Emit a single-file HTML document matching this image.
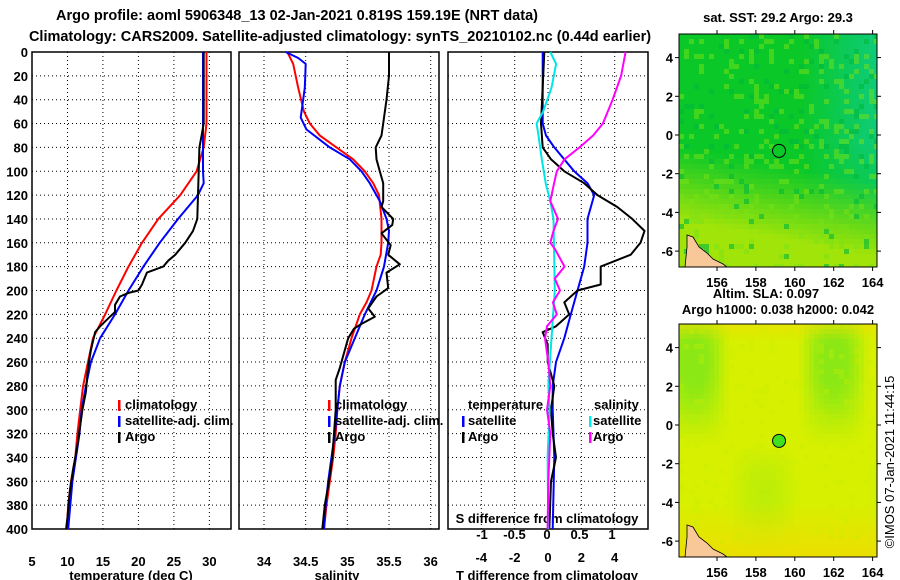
<!DOCTYPE html>
<html><head><meta charset="utf-8"><style>
html,body{margin:0;padding:0;background:#fff;}
svg{display:block;font-family:"Liberation Sans",sans-serif;font-weight:bold;}
</style></head><body>
<svg id="c" width="900" height="580" xmlns="http://www.w3.org/2000/svg">
<text x="297" y="20" font-size="14.5" text-anchor="middle">Argo profile: aoml 5906348_13 02-Jan-2021 0.819S 159.19E (NRT data)</text>
<text x="340" y="41" font-size="14.5" text-anchor="middle">Climatology: CARS2009. Satellite-adjusted climatology: synTS_20210102.nc (0.44d earlier)</text>
<g id="g"></g>
</svg>
<script>
// ---------- data ----------
const yTicks=[0,20,40,60,80,100,120,140,160,180,200,220,240,260,280,300,320,340,360,380,400];
const tTicks=[5,10,15,20,25,30];
const sTicks=[34,34.5,35,35.5,36];
const tdTicks=[-4,-2,0,2,4];
const sdTicks=[-1,-0.5,0,0.5,1];
const lonTicks=[156,158,160,162,164];
const latTicks=[4,2,0,-2,-4,-6];

const tClimD=[0,60,80,100,120,140,160,180,200,220,240,260,280,300,320,340,360,380,400];
const tClimV=[29.6,29.6,29.2,28.2,25.9,22.8,20.5,18.6,16.9,15.3,13.6,12.9,12.2,11.8,11.4,11.1,10.5,10.1,9.9];
const tSatD=[0,100,110,120,140,160,180,200,220,240,260,280,300,320,340,360,380,400];
const tSatV=[29.1,29.1,29.2,28.4,25.6,23.0,20.7,18.6,16.7,14.6,13.3,12.6,12.0,11.7,11.2,10.7,10.4,10.1];
const tArgoD=[0,60,70,80,100,120,140,150,160,170,175,180,185,195,200,202,205,212,218,222,230,235,250,265,285,300,330,350,370,390,400];
const tArgoV=[29.2,29.2,28.9,28.6,28.5,28.4,28.3,27.7,26.6,25.2,24.2,23.5,21.2,20.5,20.0,18.6,17.4,16.7,16.7,16.0,14.6,13.9,13.3,12.9,12.6,12.1,11.4,10.8,10.3,10.0,9.8];

const sClimD=[0,10,30,50,60,70,80,90,100,110,120,140,160,170,180,200,210,220,240,260,280,300,320,340,360,380,400];
const sClimV=[34.28,34.35,34.41,34.48,34.55,34.67,34.87,35.07,35.21,35.31,35.38,35.41,35.41,35.40,35.35,35.29,35.23,35.15,35.05,34.97,34.91,34.88,34.86,34.83,34.79,34.75,34.72];
const sSatD=[0,5,10,30,55,65,80,90,100,110,125,140,150,160,180,200,220,240,260,280,300,320,340,360,380,400];
const sSatV=[34.26,34.41,34.50,34.49,34.44,34.51,34.79,35.03,35.17,35.27,35.39,35.47,35.50,35.49,35.44,35.35,35.21,35.09,34.97,34.91,34.88,34.85,34.81,34.77,34.74,34.72];
const sArgoD=[0,20,40,60,70,80,90,100,110,125,130,140,145,152,162,170,178,185,198,205,215,222,228,232,240,250,265,275,300,320,340,360,380,400];
const sArgoV=[35.50,35.50,35.47,35.43,35.41,35.34,35.35,35.39,35.43,35.43,35.41,35.55,35.54,35.41,35.52,35.49,35.63,35.47,35.49,35.35,35.25,35.33,35.17,35.08,35.01,34.97,34.91,34.86,34.86,34.84,34.82,34.78,34.73,34.70];

const dTSatD=[0,60,70,80,100,110,120,140,160,180,200,220,240,260,280,300,340,400];
const dTSatV=[-0.32,-0.32,-0.12,0.38,1.57,2.37,2.77,2.37,2.37,2.17,1.77,1.37,0.98,0.48,0.28,0.28,0.38,0.28];
const dTArgoD=[0,60,80,90,100,110,120,130,140,150,160,170,180,195,200,210,220,230,235,245,260,280,300,320,340,360,400];
const dTArgoV=[-0.22,-0.42,-0.32,0.18,0.98,2.17,2.97,4.16,5.05,5.79,5.55,4.96,3.16,3.16,1.77,0.98,1.27,0.48,-0.32,-0.02,-0.02,0.38,0.18,0.28,0.48,0.18,0.08];
const dSSatD=[0,10,30,50,60,70,90,110,125,140,200,240,280,300,340,400];
const dSSatV=[0.05,0.14,0.07,-0.06,-0.16,-0.13,-0.08,-0.02,0.05,0.10,0.12,0.07,0.02,0.04,0.01,0.02];
const dSArgoD=[0,20,40,60,70,80,90,100,110,125,140,150,160,165,180,190,200,210,220,230,240,260,280,300,320,360,400];
const dSArgoV=[1.21,1.14,1.01,0.86,0.71,0.50,0.27,0.15,0.11,0.05,0.17,0.10,0.05,0.12,0.27,0.12,0.20,0.09,0.15,0.0,-0.03,0.02,0.05,0.0,0.05,0.02,0.01];

// ---------- helpers ----------
const NS='http://www.w3.org/2000/svg';
const G=document.getElementById('g');
const FS=13;
function mk(tag,at,parent){const e=document.createElementNS(NS,tag);for(const k in at)e.setAttribute(k,at[k]);(parent||G).appendChild(e);return e;}
function txt(x,y,s,size,anchor,name){const e=mk('text',{x:x,y:y,'font-size':size,'text-anchor':anchor});e.textContent=s;

return e;}
const Y0=52,Y1=529;
const yS=d=>Y0+(Y1-Y0)*d/400;

function panel(x0,x1,xmin,xmax,ticks,name,labelY){
  const xs=v=>x0+(x1-x0)*(v-xmin)/(xmax-xmin);
  const g=mk('g',{});
  
  
  yTicks.forEach(d=>{if(d>0&&d<400){const l=mk('line',{x1:x0,x2:x1,y1:yS(d),y2:yS(d),stroke:'#000','stroke-width':1,'stroke-dasharray':'1,3'},g);
    
    }});
  ticks.forEach(v=>{const X=xs(v);if(X>x0+1&&X<x1-1){const l=mk('line',{x1:X,x2:X,y1:Y0,y2:Y1,stroke:'#000','stroke-width':1,'stroke-dasharray':'1,3'},g);
    
    }
    if(labelY)txt(X,labelY,String(v),FS,'middle','x-tick-label');});
  const r=mk('rect',{x:x0,y:Y0,width:x1-x0,height:Y1-Y0,fill:'none',stroke:'#000','stroke-width':1.5},g);
  
  
  return xs;
}
function line(xs,D,V,color,w,name){
  const p=D.map((d,i)=>xs(V[i]).toFixed(1)+','+yS(d).toFixed(1)).join(' ');
  const e=mk('polyline',{points:p,fill:'none',stroke:color,'stroke-width':w,'stroke-linejoin':'round'});
  
  
}
function legBar(x,y,color){const e=mk('rect',{x:x,y:y-10,width:2.5,height:11,fill:color});
  
  }

// ---------- temperature panel ----------
const xT=panel(32,231,5,33.05,tTicks,'temperature-panel',566);
yTicks.forEach(d=>txt(28,yS(d)+5,String(d),FS,'end','y-tick-label'));
line(xT,tClimD,tClimV,'#ff0000',2,'temp-climatology-line');
line(xT,tSatD,tSatV,'#0000ff',2,'temp-satellite-line');
line(xT,tArgoD,tArgoV,'#000',2,'temp-argo-line');
txt(131,580,'temperature (deg C)',FS,'middle','temp-x-axis-title');
legBar(118,410,'#f00');txt(125,409,'climatology',FS,'start','legend-climatology');
legBar(118,426,'#00f');txt(125,425,'satellite-adj. clim.',FS,'start','legend-satellite');
legBar(118,442,'#000');txt(125,441,'Argo',FS,'start','legend-argo');

// ---------- salinity panel ----------
const xS=panel(239,439,33.7,36.1,sTicks,'salinity-panel',566);
line(xS,sClimD,sClimV,'#ff0000',2,'sal-climatology-line');
line(xS,sSatD,sSatV,'#0000ff',2,'sal-satellite-line');
line(xS,sArgoD,sArgoV,'#000',2,'sal-argo-line');
txt(337,580,'salinity',FS,'middle','sal-x-axis-title');
legBar(328,410,'#f00');txt(335,409,'climatology',FS,'start','sal-legend-climatology');
legBar(328,426,'#00f');txt(335,425,'satellite-adj. clim.',FS,'start','sal-legend-satellite');
legBar(328,442,'#000');txt(335,441,'Argo',FS,'start','sal-legend-argo');

// ---------- difference panel ----------
const xD=panel(448,648,-6,6,tdTicks,'difference-panel',562);
const xSD=v=>547+65*v;
sdTicks.forEach(v=>txt(xSD(v),539,String(v),FS,'middle','s-diff-tick-label'));
txt(547,523,'S difference from climatology',FS,'middle','s-diff-axis-title');
txt(547,580,'T difference from climatology',FS,'middle','t-diff-axis-title');
line(xD,dTSatD,dTSatV,'#0000ff',2,'tdiff-satellite-line');
line(xD,dTArgoD,dTArgoV,'#000',2,'tdiff-argo-line');
line(xSD,dSSatD,dSSatV,'#00e5e5',2,'sdiff-satellite-line');
line(xSD,dSArgoD,dSArgoV,'#ff00ff',2,'sdiff-argo-line');
txt(468,409,'temperature',FS,'start','legend-temperature-heading');
legBar(462,426,'#00f');txt(468,425,'satellite',FS,'start','legend-t-satellite');
legBar(462,442,'#000');txt(468,441,'Argo',FS,'start','legend-t-argo');
txt(594,409,'salinity',FS,'start','legend-salinity-heading');
legBar(589,426,'#0ee');txt(593,425,'satellite',FS,'start','legend-s-satellite');
legBar(589,442,'#f0f');txt(593,441,'Argo',FS,'start','legend-s-argo');

// ---------- maps ----------
function hash(i,j){let h=(i*374761393+j*668265263)^0x5bd1e995;h=(h^(h>>>13))*1274126177;return ((h^(h>>>16))>>>0)/4294967296;}
function map(top,name,colorFn,circFill){
  const x0=679,x1=877,y0=top,y1=top+233;
  const lonS=v=>717+(v-156)*19.45, latS=v=>(top+101)-v*19.35;
  const g=mk('g',{});
  
  
  const cs=5;
  for(let j=0;j*cs<y1-y0;j++)for(let i=0;i*cs<x1-x0;i++){
    mk('rect',{x:x0+i*cs,y:y0+j*cs,width:Math.min(cs,x1-x0-i*cs),height:Math.min(cs,y1-y0-j*cs),fill:colorFn(i/40,j/47,hash(i,j))},g);
  }
  const coast=mk('polygon',{points:`${x0+8},${y1-32} ${x0+14},${y1-30} ${x0+20},${y1-20} ${x0+28},${y1-14} ${x0+34},${y1-8} ${x0+38},${y1-6} ${x0+44},${y1-3} ${x0+48},${y1} ${x0+6},${y1} ${x0+8},${y1-20}`,fill:'#f8c898',stroke:'#000','stroke-width':0.8},g);
  
  
  const c=mk('circle',{cx:lonS(159.19),cy:latS(-0.82),r:6.5,fill:circFill,stroke:'#000','stroke-width':1},g);
  
  
  const fr=mk('rect',{x:x0,y:y0,width:x1-x0,height:y1-y0,fill:'none',stroke:'#000','stroke-width':1},g);
  
  
  lonTicks.forEach(v=>{const X=lonS(v);mk('line',{x1:X,x2:X,y1:y0-4,y2:y0,stroke:'#000'},g);mk('line',{x1:X,x2:X,y1:y1,y2:y1+4,stroke:'#000'},g);
    txt(X,y1+20,String(v),FS,'middle','map-lon-label');});
  latTicks.forEach(v=>{const Y=latS(v);mk('line',{x1:x0-4,x2:x0,y1:Y,y2:Y,stroke:'#000'},g);mk('line',{x1:x1,x2:x1+4,y1:Y,y2:Y,stroke:'#000'},g);
    txt(673,Y+5,String(v),FS,'end','map-lat-label');});
}
function mix(a,b,t){t=Math.max(0,Math.min(1,t));return a.map((v,k)=>Math.round(v+(b[k]-v)*t));}
function rgb(c){return `rgb(${c[0]},${c[1]},${c[2]})`;}
map(34,'sst-map',(u,v,n)=>{
  let c=[10,200,40];
  c=mix(c,[16,205,160],(u-0.6)*1.8*(1-Math.max(0,v-0.45)*2.5));
  c=mix(c,[160,228,10],(v-0.55)*3.2-(u*0.5)+0.25);
  if(n>0.85)c=mix(c,[120,225,20],0.5);
  if(n<0.07)c=mix(c,[0,185,60],0.6);
  return rgb(c);
},'none');
map(324,'sla-map',(u,v,n)=>{
  let c=[215,240,0];
  const g=Math.max(0,Math.sin(u*9+1)*Math.sin(v*5+0.6))*(1-v)*1.4;
  c=mix(c,[140,232,20],g);
  c=mix(c,[245,215,0],Math.max(0,(v-0.75)*3));
  c=mix(c,[240,220,0],Math.max(0,(0.06-v)*8));
  if(n>0.9)c=mix(c,[200,236,0],0.3);
  return rgb(c);
},'#40e020');
txt(778,22,'sat. SST: 29.2 Argo: 29.3',FS,'middle','sst-map-title');
txt(766,298,'Altim. SLA: 0.097',FS,'middle','sla-value-label');
txt(778,314,'Argo h1000: 0.038 h2000: 0.042',FS,'middle','sla-map-title');
const cr=txt(0,0,'©IMOS 07-Jan-2021 11:44:15',FS,'middle','copyright-timestamp');
cr.setAttribute('font-weight','normal');
cr.setAttribute('transform','translate(894,462) rotate(-90)');
</script>
</body></html>
